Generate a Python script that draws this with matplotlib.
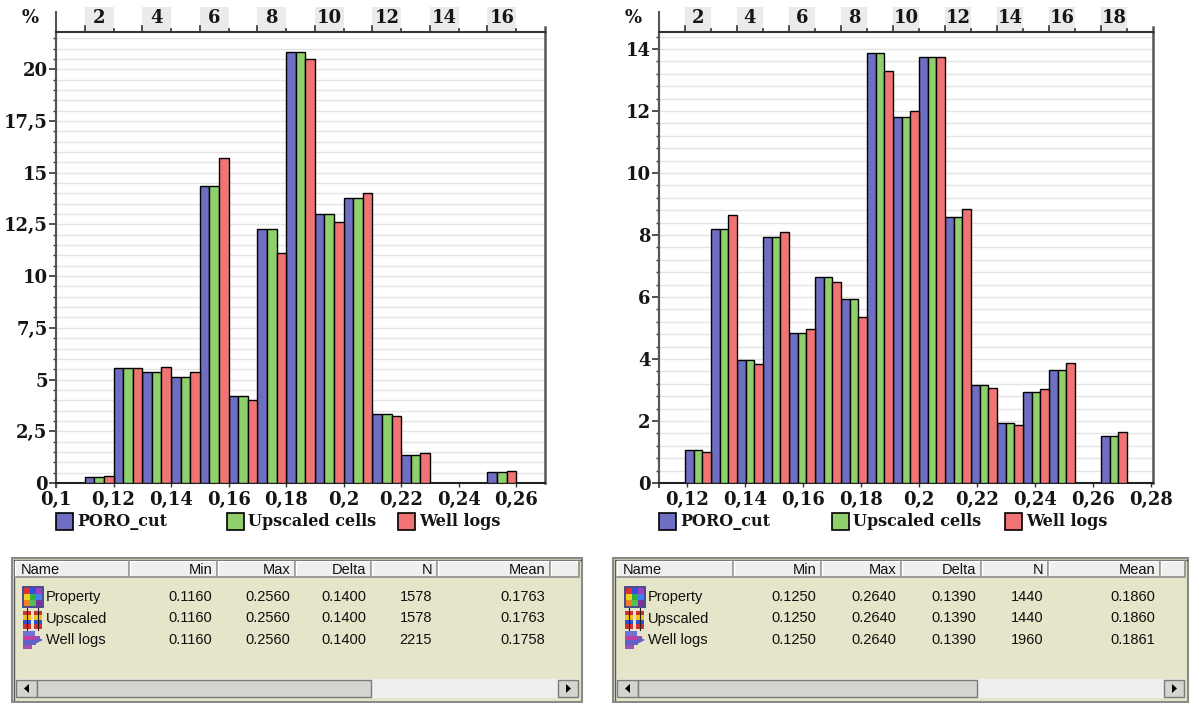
import matplotlib.pyplot as plt
import matplotlib.transforms as mtransforms
import numpy as np
from matplotlib.patches import Rectangle, Polygon
from matplotlib.ticker import MultipleLocator, FuncFormatter

W, H = 1193, 703

series = ['PORO_cut', 'Upscaled cells', 'Well logs']
colors = ['#6e6ec2', '#8fd06c', '#f07474']

# left histogram, porosity bins 0.10..0.27 (bin numbers 1..17)
left_start, left_width = 0.10, 0.01
left_poro = [0, 0.30, 5.58, 5.38, 5.13, 14.38, 4.20, 12.30, 20.82, 13.02, 13.78, 3.32, 1.36, 0, 0, 0.52, 0]
left_upsc = [0, 0.30, 5.58, 5.38, 5.13, 14.38, 4.20, 12.30, 20.82, 13.02, 13.78, 3.32, 1.36, 0, 0, 0.52, 0]
left_logs = [0, 0.35, 5.58, 5.63, 5.37, 15.72, 4.00, 11.10, 20.48, 12.60, 14.02, 3.23, 1.47, 0, 0, 0.60, 0]

# right histogram, bins numbers 1..19
right_start, right_width = 0.1105, 0.00895
right_poro = [0, 1.06, 8.19, 3.96, 7.95, 4.85, 6.65, 5.95, 13.87, 11.80, 13.74, 8.59, 3.16, 1.95, 2.95, 3.66, 0, 1.52, 0]
right_upsc = [0, 1.06, 8.19, 3.96, 7.95, 4.85, 6.65, 5.95, 13.87, 11.80, 13.74, 8.59, 3.16, 1.95, 2.95, 3.66, 0, 1.52, 0]
right_logs = [0, 1.01, 8.65, 3.83, 8.10, 4.96, 6.49, 5.37, 13.29, 12.01, 13.74, 8.85, 3.08, 1.87, 3.02, 3.87, 0, 1.63, 0]

# statistics tables
row_names = ['Property', 'Upscaled', 'Well logs']
headers = ['Name', 'Min', 'Max', 'Delta', 'N', 'Mean']
left_stats = {'Min': ['0.1160', '0.1160', '0.1160'],
              'Max': ['0.2560', '0.2560', '0.2560'],
              'Delta': ['0.1400', '0.1400', '0.1400'],
              'N': ['1578', '1578', '2215'],
              'Mean': ['0.1763', '0.1763', '0.1758']}
right_stats = {'Min': ['0.1250', '0.1250', '0.1250'],
               'Max': ['0.2640', '0.2640', '0.2640'],
               'Delta': ['0.1390', '0.1390', '0.1390'],
               'N': ['1440', '1440', '1960'],
               'Mean': ['0.1860', '0.1860', '0.1861']}

SERIF = dict(family='DejaVu Serif', weight='bold')
SANS = dict(family='Liberation Sans')
TFS = 10.5


def comma(v, pos):
    s = ('%.2f' % v).rstrip('0').rstrip('.')
    return s.replace('.', ',')


def histogram(ax, start, width, values, ymax, ystep, xticks, axw, axh):
    nb = len(values[0])
    left = start + np.arange(nb) * width
    for k, (vals, c) in enumerate(zip(values, colors)):
        vals = np.asarray(vals)
        m = vals > 0
        ax.bar(left[m] + k * width / 3, vals[m], width / 3, align='edge',
               color=c, edgecolor='black', linewidth=1.0, zorder=3)
    ax.set_xlim(start, start + nb * width)
    ax.set_ylim(0, ymax)

    ax.yaxis.set_major_locator(MultipleLocator(ystep))
    ax.yaxis.set_minor_locator(MultipleLocator(ystep / 5))
    ax.yaxis.set_major_formatter(FuncFormatter(comma))
    ax.set_xticks(xticks)
    ax.xaxis.set_major_formatter(FuncFormatter(comma))
    ax.grid(axis='y', which='both', color='#e4e4e4', lw=1.0)
    ax.set_axisbelow(True)
    ax.tick_params(axis='y', which='major', direction='out', length=5, width=1.2,
                   color='#333333', pad=1, labelsize=13)
    ax.tick_params(axis='y', which='minor', direction='out', length=2.5, width=1.0, color='#333333')
    ax.tick_params(axis='x', which='major', direction='out', length=3, width=1.0,
                   color='#333333', pad=3, labelsize=13)
    for lab in ax.get_xticklabels() + ax.get_yticklabels():
        lab.set_fontfamily('DejaVu Serif')
        lab.set_fontweight('bold')
        lab.set_color('#151515')
    for side, lw, col in [('left', 1.5, '#555555'), ('right', 1.8, '#555555'),
                          ('top', 1.5, '#333333'), ('bottom', 1.5, '#222222')]:
        ax.spines[side].set_linewidth(lw)
        ax.spines[side].set_color(col)
    ax.plot([0, 0], [-4 / axh, 1 + 20 / axh], transform=ax.transAxes, clip_on=False,
            color='#555555', lw=1.5)
    ax.plot([1, 1], [1, 1 + 5 / axh], transform=ax.transAxes, clip_on=False,
            color='#555555', lw=1.8)

    # bin-number strip above the plot
    trans = mtransforms.blended_transform_factory(ax.transData, ax.transAxes)
    strip = 25 / axh
    for b in range(2, nb, 2):
        x0 = left[b - 1]
        ax.add_patch(Rectangle((x0, 1), width, strip, transform=trans, clip_on=False,
                               fc='#ebebeb', ec='none', zorder=0))
        ax.text(x0 + width / 2, 1 + strip * 0.55, str(b), transform=trans, ha='center',
                va='center', fontsize=13, color='#151515', **SERIF)
    for b in range(2, nb + 1):
        e = left[b - 1]
        h = 6 / axh if b % 2 == 0 else 2.5 / axh
        ax.plot([e, e], [1, 1 + h], transform=trans, clip_on=False, color='#333333', lw=1.2)
    ax.text(-26 / axw, 1 + 14 / axh, '%', transform=ax.transAxes, ha='center', va='center',
            fontsize=13, color='#151515', **SERIF)

    # legend row under the axis
    for k, (name, c) in enumerate(zip(series, colors)):
        x0 = [0.0, 0.35, 0.70][k]
        ax.add_patch(Rectangle((x0, -47 / axh), 17 / axw, 17 / axh, transform=ax.transAxes,
                               clip_on=False, fc=c, ec='black', lw=1.2))
        ax.text(x0 + 21 / axw, -38 / axh, name, transform=ax.transAxes, ha='left', va='center',
                fontsize=11.5, color='#151515', **SERIF)


def icon(ov, kind, x, y):
    if kind == 0:
        grid = [['#e03030', '#3050e0', '#a040c0'],
                ['#f0d020', '#30b040', '#4080f0'],
                ['#f08020', '#50c050', '#8030a0']]
        for i in range(3):
            for j in range(3):
                ov.add_patch(Rectangle((x + 1 + j * 6, y + 1 + i * 6), 6, 6, fc=grid[i][j], ec='none'))
        ov.add_patch(Rectangle((x, y), 20, 20, fc='none', ec='#303080', lw=1.2))
    elif kind == 1:
        segs = ['#d03030', '#f0c020', '#3050d0', '#d03030']
        for cx in (x + 4, x + 15):
            ov.plot([cx, cx], [y - 1, y + 21], color='#202020', lw=0.8)
            for i, c in enumerate(segs):
                ov.add_patch(Rectangle((cx - 4, y + 2 + i * 4.5), 8, 4.5, fc=c, ec='none'))
    else:
        bars = [(12, '#7070d8'), (17, '#c040a0'), (13, '#6060c8'), (9, '#a050b0')]
        for i, (w, c) in enumerate(bars):
            ov.add_patch(Rectangle((x, y + 1 + i * 4.5), w, 4.5, fc=c, ec='none'))
        ov.add_patch(Polygon([[x + 12, y + 6], [x + 20, y + 10], [x + 12, y + 14]],
                             fc='#6060c8', ec='none'))


def table(ov, x0, x1, edges, stats, thumb_end):
    top, bottom = 558, 702
    ov.add_patch(Rectangle((x0, top), x1 - x0, bottom - top, fc='#e5e5c9', ec='#8a8a8a', lw=1.5))
    ov.plot([x0 + 1.5, x1 - 1.5], [top + 2, top + 2], color='#5a5a5a', lw=1)
    ov.plot([x0 + 2, x0 + 2], [top + 2, bottom - 2], color='#5a5a5a', lw=1)
    # header
    hedges = list(edges) + [x1 - 2]
    for a, b in zip(hedges[:-1], hedges[1:]):
        ov.add_patch(Rectangle((a, 561), b - a - 1, 16, fc='#efefed', ec='none'))
        ov.plot([a, a, b - 1], [577, 561, 561], color='white', lw=1)
        ov.plot([b - 1, b - 1, a], [561, 577, 577], color='#8c8c8c', lw=1.2)
    for i, h in enumerate(headers):
        if h == 'Name':
            ov.text(edges[0] + 6, 569.5, h, ha='left', va='center', fontsize=TFS, color='#101010', **SANS)
        else:
            ov.text(edges[i + 1] - 6, 569.5, h, ha='right', va='center', fontsize=TFS, color='#101010', **SANS)
    # rows
    for r, name in enumerate(row_names):
        yc = 597 + r * 21.5
        icon(ov, r, edges[0] + 8, yc - 10)
        ov.text(edges[0] + 31, yc, name, ha='left', va='center', fontsize=TFS, color='#101010', **SANS)
        for i, h in enumerate(headers[1:], start=1):
            ov.text(edges[i + 1] - 6, yc, stats[h][r], ha='right', va='center', fontsize=TFS,
                    color='#101010', **SANS)
    # horizontal scrollbar
    ov.add_patch(Rectangle((x0 + 3, 679), x1 - x0 - 6, 19, fc='#efefef', ec='none'))
    ov.add_patch(Rectangle((x0 + 4, 680), 21, 17, fc='#d6d4ce', ec='#7a7a7a', lw=1))
    ov.add_patch(Polygon([[x0 + 12, 688.5], [x0 + 17, 684], [x0 + 17, 693]], fc='black', ec='none'))
    ov.add_patch(Rectangle((x0 + 25, 680), thumb_end - x0 - 25, 17, fc='#d6d4ce', ec='#7a7a7a', lw=1))
    ov.add_patch(Rectangle((x1 - 24, 680), 20, 17, fc='#d6d4ce', ec='#7a7a7a', lw=1))
    ov.add_patch(Polygon([[x1 - 11, 688.5], [x1 - 16, 684], [x1 - 16, 693]], fc='black', ec='none'))


fig = plt.figure(figsize=(W / 100, H / 100), dpi=100)
fig.patch.set_facecolor('white')

ov = fig.add_axes([0, 0, 1, 1], zorder=0)
ov.set_xlim(0, W)
ov.set_ylim(H, 0)
ov.axis('off')

axh = 451
axw_l, axw_r = 489, 494
ax1 = fig.add_axes([56 / W, (H - 483) / H, axw_l / W, axh / H], zorder=1)
ax2 = fig.add_axes([659 / W, (H - 483) / H, axw_r / W, axh / H], zorder=1)

histogram(ax1, left_start, left_width, [left_poro, left_upsc, left_logs], 21.8, 2.5,
          [0.10, 0.12, 0.14, 0.16, 0.18, 0.20, 0.22, 0.24, 0.26], axw_l, axh)
histogram(ax2, right_start, right_width, [right_poro, right_upsc, right_logs], 14.55, 2,
          [0.12, 0.14, 0.16, 0.18, 0.20, 0.22, 0.24, 0.26, 0.28], axw_r, axh)

table(ov, 12, 582, [15, 130, 218, 296, 372, 438, 551], left_stats, 371)
table(ov, 613, 1188, [617, 734, 822, 902, 982, 1049, 1161], right_stats, 977)

fig.savefig('out.png', dpi=100)
